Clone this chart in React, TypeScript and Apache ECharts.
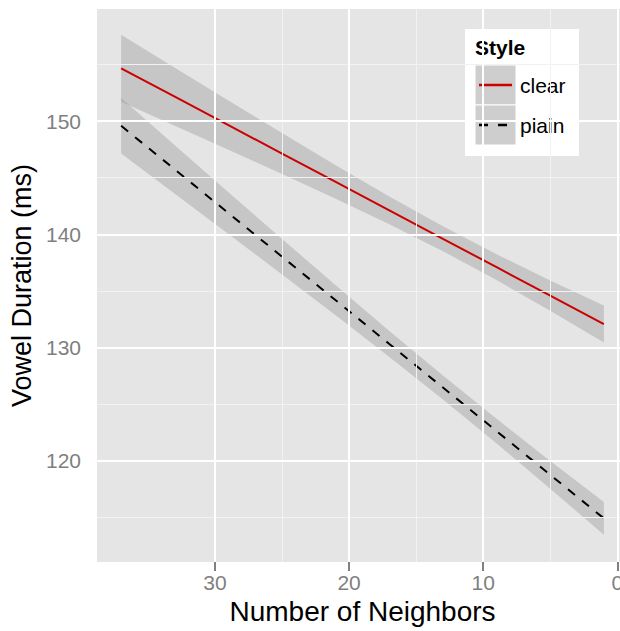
import React, { useEffect, useRef } from "react";
import * as echarts from "echarts";

// x positions (Number of Neighbors) at which the fitted lines / bands are read
const fitX = [37, 33, 29, 25, 21, 17, 13, 9, 5, 1];

// "clear" style: fitted line and confidence band
const clearFit = [154.66, 152.15, 149.64, 147.13, 144.62, 142.11, 139.6, 137.09, 134.58, 132.07];
const clearLower = [151.7, 149.59, 147.47, 145.32, 143.14, 140.88, 138.5, 135.95, 133.24, 130.44];
const clearUpper = [157.62, 154.71, 151.81, 148.94, 146.1, 143.34, 140.7, 138.23, 135.92, 133.7];

// "plain" style: fitted line and confidence band
const plainFit = [149.58, 145.73, 141.87, 138.02, 134.17, 130.31, 126.46, 122.61, 118.75, 114.9];
const plainLower = [147.13, 143.59, 140.03, 136.45, 132.84, 129.16, 125.4, 121.52, 117.52, 113.46];
const plainUpper = [152.03, 147.87, 143.71, 139.59, 135.5, 131.46, 127.52, 123.7, 119.98, 116.34];

// axis ticks and grid lines
const xTicks = [0, 10, 20, 30];
const xMinor = [5, 15, 25];
const yTicks = [120, 130, 140, 150];
const yMinor = [115, 125, 135, 145, 155];
const styleLevels = ["clear", "plain"];
const legendTitle = "Style";

const X_MIN = -0.8;
const X_MAX = 38.8;
const Y_MIN = 111.05;
const Y_MAX = 159.9;

const FONT = "Liberation Sans";

export default function App() {
  const ref = useRef<HTMLDivElement>(null);

  useEffect(() => {
    if (!ref.current) return;
    const chart = echarts.init(ref.current, null, { renderer: "svg" });

    const band = (name: string, lo: number[], hi: number[]) => ({
      type: "custom",
      name,
      z: 2,
      silent: true,
      data: fitX.map((x, i) => [x, lo[i], hi[i]]),
      encode: { x: 0, y: [1, 2] },
      renderItem: (params: any, api: any) => {
        if (params.dataIndex !== 0) return null;
        const pts: number[][] = [];
        for (let i = 0; i < fitX.length; i++) pts.push(api.coord([fitX[i], hi[i]]));
        for (let i = fitX.length - 1; i >= 0; i--) pts.push(api.coord([fitX[i], lo[i]]));
        return {
          type: "polygon",
          shape: { points: pts },
          style: { fill: "rgba(153,153,153,0.4)" },
        };
      },
    });

    const gridLines = [
      ...xMinor.map((v) => ({ xAxis: v, lineStyle: { color: "#F2F2F2", width: 1, type: "solid" } })),
      ...yMinor.map((v) => ({ yAxis: v, lineStyle: { color: "#F2F2F2", width: 1, type: "solid" } })),
      ...xTicks.map((v) => ({ xAxis: v, lineStyle: { color: "#FFFFFF", width: 2, type: "solid" } })),
      ...yTicks.map((v) => ({ yAxis: v, lineStyle: { color: "#FFFFFF", width: 2, type: "solid" } })),
    ];

    const labelFmt = (v: number) => (Math.abs(v % 10) < 1e-9 ? String(v) : "");

    chart.setOption({
      animation: false,
      backgroundColor: "#FFFFFF",
      grid: {
        left: 97,
        top: 9,
        width: 531,
        height: 553,
        show: true,
        backgroundColor: "#E5E5E5",
        borderWidth: 0,
      },
      xAxis: {
        type: "value",
        inverse: true,
        min: X_MIN,
        max: X_MAX,
        axisLine: { show: false },
        splitLine: { show: false },
        axisTick: {
          show: true,
          customValues: xTicks,
          length: 9,
          lineStyle: { color: "#7F7F7F", width: 2 },
        },
        axisLabel: {
          customValues: xTicks,
          formatter: labelFmt,
          color: "#7F7F7F",
          fontSize: 21,
          fontFamily: FONT,
          margin: 10,
        },
        name: "Number of Neighbors",
        nameLocation: "middle",
        nameGap: 35,
        nameTextStyle: { fontSize: 28, color: "#000000", fontFamily: FONT },
      },
      yAxis: {
        type: "value",
        min: Y_MIN,
        max: Y_MAX,
        axisLine: { show: false },
        splitLine: { show: false },
        axisTick: {
          show: true,
          customValues: yTicks,
          length: 9,
          lineStyle: { color: "#7F7F7F", width: 2 },
        },
        axisLabel: {
          customValues: yTicks,
          formatter: labelFmt,
          color: "#7F7F7F",
          fontSize: 21,
          fontFamily: FONT,
          margin: 16,
        },
        name: "Vowel Duration (ms)",
        nameLocation: "middle",
        nameGap: 60,
        nameTextStyle: { fontSize: 27, color: "#000000", fontFamily: FONT },
      },
      series: [
        {
          type: "line",
          name: "grid",
          z: 1,
          silent: true,
          symbol: "none",
          lineStyle: { opacity: 0 },
          data: [[X_MIN, Y_MIN]],
          markLine: {
            silent: true,
            symbol: ["none", "none"],
            label: { show: false },
            lineStyle: { type: "solid" },
            data: gridLines,
          },
        },
        band("clear band", clearLower, clearUpper),
        band("plain band", plainLower, plainUpper),
        {
          type: "line",
          name: styleLevels[0],
          z: 3,
          symbol: "none",
          silent: true,
          lineStyle: { color: "#CC0000", width: 2 },
          data: fitX.map((x, i) => [x, clearFit[i]]),
        },
        {
          type: "line",
          name: styleLevels[1],
          z: 3,
          symbol: "none",
          silent: true,
          lineStyle: { color: "#000000", width: 2, type: [9, 9] },
          data: fitX.map((x, i) => [x, plainFit[i]]),
        },
      ],
      graphic: [
        {
          type: "group",
          z: 100,
          children: [
            { type: "rect", shape: { x: 465, y: 29, width: 114, height: 127 }, style: { fill: "#FFFFFF" } },
            {
              type: "text",
              x: 475,
              y: 47.5,
              style: { text: legendTitle, font: `bold 21px "${FONT}"`, fill: "#000000", verticalAlign: "middle" },
            },
            { type: "rect", shape: { x: 475, y: 65, width: 41, height: 40 }, style: { fill: "#CECECE", stroke: "#FFFFFF", lineWidth: 1 } },
            { type: "rect", shape: { x: 475, y: 105, width: 41, height: 40 }, style: { fill: "#CECECE", stroke: "#FFFFFF", lineWidth: 1 } },
            { type: "line", shape: { x1: 479, y1: 85, x2: 512, y2: 85 }, style: { stroke: "#CC0000", lineWidth: 2.5 } },
            { type: "line", shape: { x1: 479, y1: 125, x2: 512, y2: 125 }, style: { stroke: "#000000", lineWidth: 2.5, lineDash: [9, 10] } },
            {
              type: "text",
              x: 520,
              y: 85,
              style: { text: styleLevels[0], font: `21px "${FONT}"`, fill: "#000000", verticalAlign: "middle" },
            },
            {
              type: "text",
              x: 520,
              y: 125,
              style: { text: styleLevels[1], font: `21px "${FONT}"`, fill: "#000000", verticalAlign: "middle" },
            },
          ],
        },
      ],
    });

    return () => {
      chart.dispose();
    };
  }, []);

  return (
    <div style={{ position: "fixed", left: 0, top: 0, width: 620, height: 631, overflow: "hidden", background: "#fff" }}>
      <div ref={ref} style={{ width: 640, height: 631 }} />
    </div>
  );
}
